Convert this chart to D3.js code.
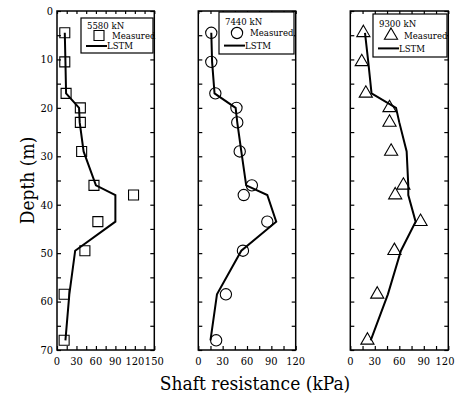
<!DOCTYPE html>
<html>
<head>
<meta charset="utf-8">
<script src="https://cdn.jsdelivr.net/npm/d3@7"></script>
<style>
  body { margin: 0; background: #fff; }
  text { font-stretch: condensed; }
</style>
</head>
<body>
<div id="chart"></div>
<script>
// depths (m) of the measured points, shared by all three loads
const depths = [4.5, 10.5, 17, 20, 23, 29, 36, 38, 43.5, 49.5, 58.5, 68];

const loads = ['5580 kN', '7440 kN', '9300 kN'];

// shaft resistance (kPa)
const measured5580 = [12, 12, 14, 36, 36, 38, 57, 118, 63, 43, 11, 11];
const lstm5580 = [12, 13, 14, 34, 35, 41, 60, 90, 90, 28, 19, 13];
const measured7440 = [16, 16, 21, 47, 48, 51, 66, 56, 85, 55, 34, 22];
const lstm7440 = [16, 17, 20, 46, 48, 53, 59, 85, 96, 53, 23, 15];
const measured9300 = [16, 14, 19, 48, 48, 50, 65, 55, 86, 54, 33, 21];
const lstm9300 = [18, 22, 26, 56, 60, 69, 71, 71, 80, 62, 46, 25];

const xMax = [150, 120, 120];
const xTicks = [[0, 30, 60, 90, 120, 150], [0, 30, 60, 90, 120], [0, 30, 60, 90, 120]];
const yTicks = [0, 10, 20, 30, 40, 50, 60, 70];

const W = 456, H = 397;
const plotTop = 11, plotBottom = 350;
const panelX = [[57, 154.3], [198.3, 295.7], [350.3, 448.3]];
const legendBox = [[81, 18, 72, 35], [219, 12, 75, 42], [373, 14, 74, 43]];
const serif = "'DejaVu Serif Condensed', 'DejaVu Serif', serif";

const svg = d3.select('#chart').append('svg').attr('width', W).attr('height', H);

const y = d3.scaleLinear().domain([0, 70]).range([plotTop, plotBottom]);
const panels = [
  { measured: measured5580, lstm: lstm5580, symbol: d3.symbolSquare, size: 100 },
  { measured: measured7440, lstm: lstm7440, symbol: d3.symbolCircle, size: 100 },
  { measured: measured9300, lstm: lstm9300, symbol: d3.symbolTriangle, size: 75 },
];

panels.forEach((p, i) => {
  const x = d3.scaleLinear().domain([0, xMax[i]]).range(panelX[i]);
  const g = svg.append('g');
  const tickLen = 4;

  // inward ticks on all four sides
  const yMinor = d3.range(0, 71, 5);
  const xMinor = d3.range(0, xMax[i] + 1, 15);
  const axL = g.append('g').attr('transform', `translate(${panelX[i][0]},0)`)
    .call(d3.axisRight(y).tickValues(yMinor).tickSize(tickLen).tickFormat(''));
  const axR = g.append('g').attr('transform', `translate(${panelX[i][1]},0)`)
    .call(d3.axisLeft(y).tickValues(yMinor).tickSize(tickLen).tickFormat(''));
  const axB = g.append('g').attr('transform', `translate(0,${plotBottom})`)
    .call(d3.axisTop(x).tickValues(xMinor).tickSize(tickLen).tickFormat(''));
  const axT = g.append('g').attr('transform', `translate(0,${plotTop})`)
    .call(d3.axisBottom(x).tickValues(xMinor).tickSize(3).tickFormat(''));
  [axL, axR, axB, axT].forEach(a => {
    a.select('.domain').remove();
    a.selectAll('line').attr('stroke', '#000').attr('stroke-width', 1.2);
  });

  g.append('rect').attr('x', panelX[i][0]).attr('y', plotTop)
    .attr('width', panelX[i][1] - panelX[i][0]).attr('height', plotBottom - plotTop)
    .attr('fill', 'none').attr('stroke', '#000').attr('stroke-width', 1.5);

  // x tick labels (the last one in the right panel is pulled in from the page edge)
  g.selectAll('.xl').data(xTicks[i]).join('text')
    .attr('x', d => Math.min(x(d), W - 11)).attr('y', plotBottom + 15)
    .attr('text-anchor', 'middle').attr('font-family', serif).attr('font-size', 11).text(d => d);

  if (i === 0) {
    g.selectAll('.yl').data(yTicks).join('text')
      .attr('x', panelX[0][0] - 4).attr('y', d => y(d)).attr('dy', '0.35em')
      .attr('text-anchor', 'end').attr('font-family', serif).attr('font-size', 11).text(d => d);
  }

  // LSTM line
  const line = d3.line().x(d => x(d[0])).y(d => y(d[1]));
  g.append('path').datum(p.lstm.map((v, k) => [v, depths[k]]))
    .attr('d', line).attr('fill', 'none').attr('stroke', '#000').attr('stroke-width', 2);

  // measured markers
  const sym = d3.symbol().type(p.symbol).size(p.size);
  g.selectAll('.m').data(p.measured.map((v, k) => [v, depths[k]])).join('path')
    .attr('transform', d => `translate(${x(d[0])},${y(d[1])})`)
    .attr('d', sym).attr('fill', 'none').attr('stroke', '#000').attr('stroke-width', 1.1);

  // legend
  const [lx, ly, lw, lh] = legendBox[i];
  const lg = g.append('g').attr('transform', `translate(${lx},${ly})`);
  lg.append('rect').attr('width', lw).attr('height', lh)
    .attr('fill', '#fff').attr('stroke', '#000').attr('stroke-width', 1.2);
  const r1 = lh * 0.22, r2 = lh * 0.5, r3 = lh * 0.8;
  lg.append('text').attr('x', 6).attr('y', r1).attr('dy', '0.35em')
    .attr('font-family', serif).attr('font-size', 9.5).text(loads[i]);
  lg.append('path').attr('transform', `translate(18,${r2})`)
    .attr('d', d3.symbol().type(p.symbol).size(p.size)).attr('fill', 'none')
    .attr('stroke', '#000').attr('stroke-width', 1.1);
  lg.append('text').attr('x', 31).attr('y', r2).attr('dy', '0.35em')
    .attr('font-family', serif).attr('font-size', 9.5).text('Measured');
  lg.append('line').attr('x1', 5).attr('x2', 26).attr('y1', r3).attr('y2', r3)
    .attr('stroke', '#000').attr('stroke-width', 2);
  lg.append('text').attr('x', 26).attr('y', r3).attr('dy', '0.35em')
    .attr('font-family', serif).attr('font-size', 9.5).text('LSTM');
});

svg.append('text').attr('transform', `translate(27,${(plotTop + plotBottom) / 2}) rotate(-90)`)
  .attr('text-anchor', 'middle').attr('dy', '0.35em')
  .attr('font-family', serif).attr('font-size', 19).text('Depth (m)');
svg.append('text').attr('x', 255).attr('y', 390)
  .attr('text-anchor', 'middle').attr('font-family', serif).attr('font-size', 19)
  .text('Shaft resistance (kPa)');
</script>
</body>
</html>
